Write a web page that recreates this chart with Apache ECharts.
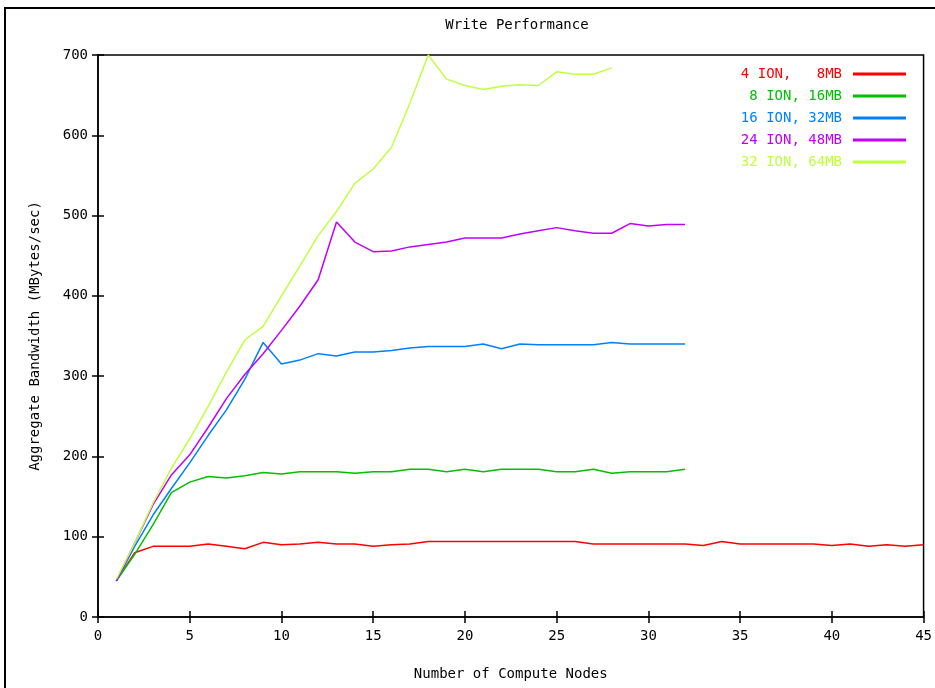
<!DOCTYPE html>
<html>
<head>
<meta charset="utf-8">
<script src="https://cdn.jsdelivr.net/npm/echarts@6/dist/echarts.min.js"></script>
<style>
  html, body { margin: 0; padding: 0; background: #fff; }
  #chart { width: 935px; height: 688px; }
</style>
</head>
<body>
<div id="chart"></div>
<script>
// node counts on the x axis
const nodes = [1, 2, 3, 4, 5, 6, 7, 8, 9, 10, 11, 12, 13, 14, 15, 16, 17, 18, 19, 20,
  21, 22, 23, 24, 25, 26, 27, 28, 29, 30, 31, 32, 33, 34, 35, 36, 37, 38, 39, 40,
  41, 42, 43, 44, 45];

// bandwidth (MBytes/sec)
const ion4 = [45, 80, 88, 88, 88, 91, 88, 85, 93, 90, 91, 93, 91, 91, 88, 90, 91, 94, 94, 94,
  94, 94, 94, 94, 94, 94, 91, 91, 91, 91, 91, 91, 89, 94, 91, 91, 91, 91, 91, 89,
  91, 88, 90, 88, 90];
const ion8 = [45, 78, 115, 155, 168, 175, 173, 176, 180, 178, 181, 181, 181, 179, 181, 181,
  184, 184, 181, 184, 181, 184, 184, 184, 181, 181, 184, 179, 181, 181, 181, 184];
const ion16 = [45, 88, 127, 160, 192, 226, 258, 296, 342, 315, 320, 328, 325, 330, 330, 332,
  335, 337, 337, 337, 340, 334, 340, 339, 339, 339, 339, 342, 340, 340, 340, 340];
const ion24 = [45, 92, 140, 177, 202, 236, 272, 302, 328, 357, 387, 420, 492, 467, 455, 456,
  461, 464, 467, 472, 472, 472, 477, 481, 485, 481, 478, 478, 490, 487, 489, 489];
const ion32 = [47, 92, 142, 185, 222, 262, 305, 345, 362, 400, 437, 475, 505, 540, 558, 585,
  640, 700, 670, 662, 657, 661, 663, 662, 679, 676, 676, 684];

const names = ['4 ION,   8MB', ' 8 ION, 16MB', '16 ION, 32MB', '24 ION, 48MB', '32 ION, 64MB'];
const colors = ['#ff0000', '#00c000', '#0080ff', '#c000ff', '#c0ff40'];
const values = [ion4, ion8, ion16, ion24, ion32];

const FONT = '"DejaVu Sans Mono", monospace';

const chart = echarts.init(document.getElementById('chart'));

const series = values.map((vals, i) => ({
  name: names[i],
  type: 'line',
  symbol: 'none',
  color: colors[i],
  lineStyle: { width: 1.5 },
  data: vals.map((v, k) => [nodes[k], v])
}));

// hidden mirror axes give the gnuplot style ticks on top and right
const tickStyle = { inside: true, length: 6, lineStyle: { color: '#000', width: 1.5 } };

chart.setOption({
  animation: false,
  backgroundColor: '#fff',
  title: {
    text: 'Write Performance',
    left: 512,
    textAlign: 'center',
    top: 13,
    textStyle: { fontFamily: FONT, fontSize: 14, fontWeight: 'normal', color: '#000' }
  },
  legend: {
    orient: 'vertical',
    right: 24,
    top: 62,
    align: 'right',
    icon: 'rect',
    itemWidth: 53,
    itemHeight: 3,
    itemGap: 8,
    data: names.map((n, i) => ({ name: n, textStyle: { color: colors[i] } })),
    textStyle: { fontFamily: FONT, fontSize: 14, lineHeight: 14, padding: [0, 6, 0, 0] }
  },
  grid: { left: 98, right: 8, top: 55, bottom: 71, show: true, borderColor: '#000', borderWidth: 1.5 },
  xAxis: [{
    type: 'value',
    min: 0, max: 45, interval: 5,
    name: 'Number of Compute Nodes',
    nameLocation: 'middle',
    nameGap: 50,
    nameTextStyle: { fontFamily: FONT, fontSize: 14, color: '#000' },
    axisLine: { lineStyle: { color: '#000', width: 1.5 } },
    axisTick: tickStyle,
    axisLabel: { fontFamily: FONT, fontSize: 14, color: '#000', margin: 12 },
    splitLine: { show: false }
  }, {
    type: 'value',
    position: 'top',
    min: 0, max: 45, interval: 5,
    axisLine: { show: false },
    axisTick: tickStyle,
    axisLabel: { show: false },
    splitLine: { show: false }
  }],
  yAxis: [{
    type: 'value',
    min: 0, max: 700, interval: 100,
    name: 'Aggregate Bandwidth (MBytes/sec)',
    nameLocation: 'middle',
    nameGap: 56,
    nameTextStyle: { fontFamily: FONT, fontSize: 14, color: '#000' },
    axisLine: { show: true, lineStyle: { color: '#000', width: 1.5 } },
    axisTick: tickStyle,
    axisLabel: { fontFamily: FONT, fontSize: 14, color: '#000', margin: 10 },
    splitLine: { show: false }
  }, {
    type: 'value',
    position: 'right',
    min: 0, max: 700, interval: 100,
    axisLine: { show: false },
    axisTick: tickStyle,
    axisLabel: { show: false },
    splitLine: { show: false }
  }],
  graphic: [{
    type: 'rect',
    shape: { x: 5, y: 8, width: 940, height: 700 },
    style: { fill: 'none', stroke: '#000', lineWidth: 2 },
    silent: true
  }],
  series: series
});
</script>
</body>
</html>
